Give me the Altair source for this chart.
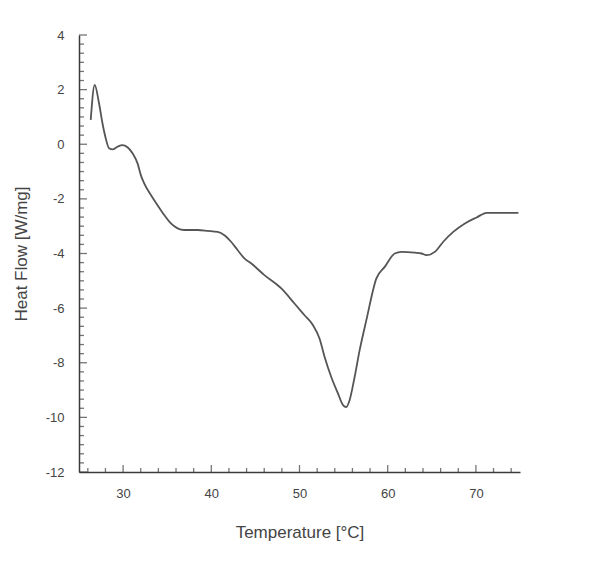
import altair as alt
import pandas as pd

temperature = [26.33, 26.78, 27.27, 27.66, 28.03, 28.41, 28.80, 29.36, 29.93, 30.50,
               31.07, 31.64, 32.01, 32.39, 33.15, 33.91, 34.66, 35.42, 36.18, 36.93,
               38.45, 39.59, 40.73, 41.48, 42.24, 43.00, 43.75, 44.51, 46.02, 47.94,
               49.43, 50.57, 51.52, 52.27, 52.84, 53.60, 54.36, 54.93, 55.31, 55.68,
               56.25, 56.82, 57.58, 58.72, 59.66, 60.80, 61.56, 63.07, 63.83, 64.40,
               65.34, 66.30, 67.43, 68.75, 70.08, 71.22, 74.82]
heat_flow = [0.89, 2.17, 1.50, 0.77, 0.22, -0.15, -0.19, -0.09, -0.03, -0.11,
             -0.33, -0.70, -1.13, -1.43, -1.86, -2.23, -2.59, -2.90, -3.08, -3.14,
             -3.14, -3.17, -3.21, -3.33, -3.57, -3.88, -4.18, -4.36, -4.79, -5.28,
             -5.83, -6.26, -6.62, -7.11, -7.78, -8.52, -9.12, -9.55, -9.62, -9.37,
             -8.52, -7.54, -6.44, -4.91, -4.49, -4.00, -3.94, -3.97, -4.00, -4.06,
             -3.94, -3.57, -3.21, -2.90, -2.68, -2.51, -2.51]

x_major = [30, 40, 50, 60, 70]
x_minor = [26, 28, 32, 34, 36, 38, 42, 44, 46, 48, 52, 54, 56, 58, 62, 64, 66, 68, 72, 74]
y_major = [-12, -10, -8, -6, -4, -2, 0, 2, 4]
y_minor = [round(-12 + k / 3, 4) for k in range(49) if k % 6 != 0]

x_domain = [25, 75]
y_domain = [-12, 4]
x_title = "Temperature [°C]"
y_title = "Heat Flow [W/mg]"

FONT = "Liberation Sans"
AXIS_COLOR = "#3a3a3a"
TEXT_COLOR = "#444444"

df = pd.DataFrame({"t": temperature, "h": heat_flow})
xs = alt.Scale(domain=x_domain, nice=False, zero=False)
ys = alt.Scale(domain=y_domain, nice=False, zero=False)

x_axis = alt.Axis(values=x_major, ticks=False, grid=False, domainColor=AXIS_COLOR,
                  domainWidth=1.5, labelFont=FONT, labelFontSize=13, labelColor=TEXT_COLOR,
                  labelExpr="'' + datum.value",
                  labelPadding=15, titleFont=FONT, titleFontSize=17, titleFontWeight="normal",
                  titleColor=TEXT_COLOR, titlePadding=24)
y_axis = alt.Axis(values=y_major, ticks=False, grid=False, domainColor=AXIS_COLOR,
                  domainWidth=1.5, labelFont=FONT, labelFontSize=13, labelColor=TEXT_COLOR,
                  labelExpr="'' + datum.value",
                  labelPadding=15, titleFont=FONT, titleFontSize=17, titleFontWeight="normal",
                  titleColor=TEXT_COLOR, titlePadding=15)

line = alt.Chart(df).mark_line(color="#555555", strokeWidth=1.8, interpolate="monotone").encode(
    x=alt.X("t:Q", scale=xs, title=x_title, axis=x_axis),
    y=alt.Y("h:Q", scale=ys, title=y_title, axis=y_axis),
)

def xticks(vals, size):
    return alt.Chart(pd.DataFrame({"v": vals})).mark_tick(
        orient="vertical", size=size, thickness=1.3, color=AXIS_COLOR, yOffset=-size / 2
    ).encode(
        x=alt.X("v:Q", scale=xs, title=x_title, axis=x_axis),
        y=alt.YDatum(y_domain[0], type="quantitative", scale=ys, title=y_title, axis=y_axis),
    )

def yticks(vals, size):
    return alt.Chart(pd.DataFrame({"v": vals})).mark_tick(
        orient="horizontal", size=size, thickness=1.3, color=AXIS_COLOR, xOffset=size / 2
    ).encode(
        y=alt.Y("v:Q", scale=ys, title=y_title, axis=y_axis),
        x=alt.XDatum(x_domain[0], type="quantitative", scale=xs, title=x_title, axis=x_axis),
    )

chart = alt.layer(
    line, xticks(x_major, 7), xticks(x_minor, 4), yticks(y_major, 8), yticks(y_minor, 5)
).properties(
    width=441, height=437,
    autosize=alt.AutoSizeParams(type="none"),
    padding={"left": 71, "top": 27, "right": 72, "bottom": 93},
).configure_view(stroke=None)

chart.save("out.html", embed_options={"renderer": "svg", "actions": False})
